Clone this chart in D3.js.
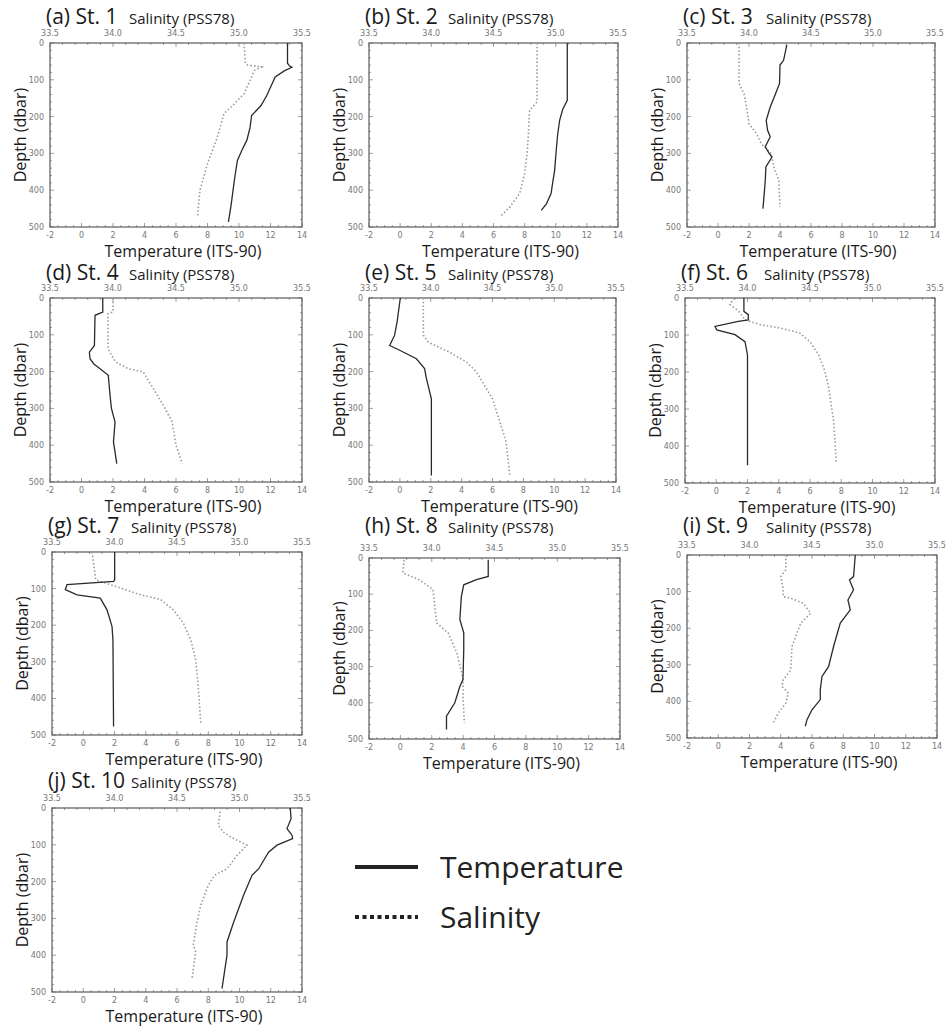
<!DOCTYPE html>
<html><head><meta charset="utf-8">
<script src="https://cdn.jsdelivr.net/npm/d3@7/dist/d3.min.js"></script>
<style>body{margin:0;background:#fff}svg{display:block}</style>
</head><body>
<script>
// ---- data ----
const stationLabels = ["(a) St. 1","(b) St. 2","(c) St. 3","(d) St. 4","(e) St. 5","(f) St. 6","(g) St. 7","(h) St. 8","(i) St. 9","(j) St. 10"];
const tempTicks = [-2,0,2,4,6,8,10,12,14];
const salTicks = [33.5,34.0,34.5,35.0,35.5];
const depthTicks = [0,100,200,300,400,500];

// [depth (dbar), temperature (°C)]
const temp1 = [[0,13.08],[55,13.08],[62,13.2],[66,13.36],[75,12.9],[92,12.3],[120,12.0],[142,11.77],[170,11.4],[197,10.8],[230,10.7],[264,10.5],[290,10.2],[319,9.9],[360,9.75],[391,9.65],[440,9.5],[486,9.33]];
const temp2 = [[0,10.74],[156,10.74],[180,10.45],[210,10.25],[250,10.12],[292,10.03],[346,9.93],[380,9.8],[409,9.7],[437,9.4],[455,9.07]];
const temp3 = [[5,4.44],[47,4.23],[60,4.0],[110,3.97],[147,3.63],[174,3.37],[210,3.11],[237,3.2],[255,3.37],[282,3.05],[300,3.3],[310,3.48],[337,3.09],[373,3.05],[410,2.98],[450,2.9]];
const temp4 = [[0,1.35],[38,1.35],[47,0.86],[129,0.82],[147,0.5],[165,0.54],[180,0.8],[192,1.18],[210,1.7],[264,1.81],[300,1.9],[337,2.13],[391,2.03],[450,2.24]];
const temp5 = [[0,0.03],[65,-0.18],[101,-0.34],[129,-0.66],[142,-0.01],[165,1.07],[192,1.6],[219,1.72],[274,2.04],[482,2.04]];
const temp6 = [[0,1.77],[36,1.77],[45,2.05],[59,2.05],[63,1.41],[77,-0.08],[86,0.03],[99,1.2],[118,1.84],[154,2.0],[452,2.0]];
const temp7 = [[0,2.01],[76,2.01],[80,1.95],[89,-1.04],[103,-1.15],[117,-0.4],[126,1.09],[158,1.52],[203,1.84],[240,1.9],[477,1.94]];
const temp8 = [[5,5.6],[51,5.6],[60,4.85],[74,4.04],[106,3.89],[170,3.79],[207,4.04],[253,4.04],[336,3.99],[355,3.79],[400,3.47],[437,2.94],[474,2.94]];
const temp9 = [[0,8.77],[59,8.66],[68,8.4],[95,8.66],[123,8.3],[150,8.45],[186,7.81],[250,7.38],[305,7.06],[332,6.64],[368,6.53],[395,6.53],[423,6.0],[450,5.68],[468,5.57]];
const temp10 = [[0,13.25],[29,13.3],[56,13.04],[74,13.36],[83,13.4],[101,12.4],[120,11.86],[165,11.23],[183,10.8],[237,10.26],[310,9.63],[364,9.2],[400,9.2],[491,8.88]];

// [depth (dbar), salinity (PSS78)]
const sal1 = [[0,35.04],[55,35.05],[60,35.07],[65,35.18],[75,35.12],[92,35.10],[138,35.04],[170,34.95],[192,34.88],[230,34.85],[264,34.82],[300,34.78],[328,34.75],[400,34.69],[473,34.67]];
const sal2 = [[0,34.85],[160,34.85],[183,34.79],[250,34.78],[300,34.77],[355,34.75],[409,34.71],[446,34.63],[473,34.55]];
const sal3 = [[0,33.92],[110,33.92],[138,33.96],[174,33.98],[219,34.0],[246,34.06],[274,34.1],[301,34.18],[337,34.2],[373,34.24],[446,34.25]];
const sal4 = [[0,34.0],[38,34.0],[43,33.96],[138,33.96],[174,34.02],[188,34.1],[192,34.12],[201,34.24],[246,34.32],[292,34.4],[337,34.47],[400,34.5],[450,34.55]];
const sal5 = [[0,33.94],[101,33.94],[120,33.98],[147,34.15],[174,34.29],[201,34.37],[246,34.45],[274,34.5],[337,34.56],[391,34.61],[482,34.64]];
const sal6 = [[0,33.89],[18,33.86],[36,33.93],[59,33.98],[72,34.1],[81,34.26],[95,34.42],[118,34.5],[154,34.57],[199,34.62],[244,34.65],[335,34.69],[443,34.71]];
const sal7 = [[0,33.82],[76,33.85],[94,34.01],[117,34.21],[130,34.37],[158,34.47],[194,34.55],[240,34.61],[295,34.65],[368,34.67],[468,34.69]];
const sal8 = [[5,33.78],[41,33.77],[60,33.9],[87,34.01],[152,34.03],[180,34.04],[207,34.13],[262,34.2],[336,34.25],[391,34.25],[456,34.26]];
const sal9 = [[0,34.29],[41,34.29],[59,34.25],[95,34.27],[114,34.27],[118,34.33],[132,34.43],[159,34.49],[186,34.41],[250,34.34],[314,34.33],[341,34.27],[359,34.26],[377,34.31],[405,34.29],[432,34.23],[459,34.19]];
const sal10 = [[0,34.85],[47,34.83],[65,34.87],[79,34.93],[101,35.06],[129,34.98],[165,34.9],[183,34.8],[210,34.75],[264,34.69],[310,34.66],[373,34.63],[391,34.65],[464,34.62]];

const temps = [temp1,temp2,temp3,temp4,temp5,temp6,temp7,temp8,temp9,temp10];
const sals = [sal1,sal2,sal3,sal4,sal5,sal6,sal7,sal8,sal9,sal10];

// ---- layout (frame boxes: left, top, right, bottom; title baseline) ----
const frames = [
  [50,43,302,227,24],[369,43,618,227,24],[687,43,935,227,24],
  [50,298,302,482,280],[369,298,616,482,280],[685,298,935,483,280],
  [52,552,302,735,533],[369,558,620,739,533],[687,555,937,738,533],
  [52,808,302,992,788]
];

const W = 951, H = 1027;
const svg = d3.select("body").append("svg").attr("width",W).attr("height",H);
const FONT = "'Open Sans', 'Noto Sans', sans-serif";
const TICKFONT = "'DejaVu Sans', sans-serif";
const frameCol = "#5a5a5a", tickCol = "#888";

frames.forEach((f,i)=>{
  const [L,T,R,B,tb] = f;
  const x = d3.scaleLinear().domain([-2,14]).range([L,R]);
  const xs = d3.scaleLinear().domain([33.5,35.5]).range([L,R]);
  const y = d3.scaleLinear().domain([0,500]).range([T,B]);
  const g = svg.append("g");

  // ticks (inward), minor + major
  const minorT = d3.range(-2,14.001,0.5), minorS = d3.range(33.5,35.501,0.1), minorD = d3.range(0,500.1,20);
  const tk = g.append("g").attr("stroke",tickCol).attr("stroke-width",0.8);
  minorT.forEach(v=>{const maj = tempTicks.some(t=>Math.abs(t-v)<1e-6); const len = maj?4:2;
    tk.append("line").attr("x1",x(v)).attr("x2",x(v)).attr("y1",B).attr("y2",B-len);});
  minorS.forEach(v=>{const maj = salTicks.some(t=>Math.abs(t-v)<1e-6); const len = maj?4:2;
    tk.append("line").attr("x1",xs(v)).attr("x2",xs(v)).attr("y1",T).attr("y2",T+len);});
  minorD.forEach(v=>{const maj = depthTicks.includes(Math.round(v)); const len = maj?4:2;
    tk.append("line").attr("x1",L).attr("x2",L+len).attr("y1",y(v)).attr("y2",y(v));
    tk.append("line").attr("x1",R).attr("x2",R-len).attr("y1",y(v)).attr("y2",y(v));});

  // frame
  g.append("rect").attr("x",L).attr("y",T).attr("width",R-L).attr("height",B-T)
    .attr("fill","none").attr("stroke",frameCol).attr("stroke-width",1.2);

  // tick labels
  const lab = g.append("g").attr("font-family",TICKFONT).attr("font-size",8).attr("fill","#777");
  tempTicks.forEach(v=>lab.append("text").attr("x",x(v)).attr("y",B+11).attr("text-anchor","middle").text(v));
  salTicks.forEach(v=>lab.append("text").attr("x",xs(v)).attr("y",T-7).attr("text-anchor","middle").text(v.toFixed(1)));
  depthTicks.forEach(v=>lab.append("text").attr("x",L-6).attr("y",y(v)+3).attr("text-anchor","end").text(v));

  // profiles
  const lineT = d3.line().x(d=>x(d[1])).y(d=>y(d[0]));
  const lineS = d3.line().x(d=>xs(d[1])).y(d=>y(d[0]));
  g.append("path").datum(sals[i]).attr("d",lineS).attr("fill","none")
    .attr("stroke","#9a9a9a").attr("stroke-width",1.6).attr("stroke-dasharray","1.5,2.2");
  g.append("path").datum(temps[i]).attr("d",lineT).attr("fill","none")
    .attr("stroke","#2a2a2a").attr("stroke-width",1.3);

  // titles
  g.append("text").attr("x",L-4).attr("y",tb).attr("font-family",FONT).attr("font-size",21)
    .attr("fill","#1a1a1a").text(stationLabels[i]);
  g.append("text").attr("x",L+79).attr("y",tb).attr("font-family",FONT).attr("font-size",15)
    .attr("fill","#1a1a1a").text("Salinity (PSS78)");
  g.append("text").attr("x",(L+R)/2+7).attr("y",B+29.5).attr("text-anchor","middle")
    .attr("font-family",FONT).attr("font-size",16).attr("fill","#1a1a1a").text("Temperature (ITS-90)");
  g.append("text").attr("transform",`translate(${L-24},${(T+B)/2}) rotate(-90)`).attr("text-anchor","middle")
    .attr("font-family",FONT).attr("font-size",16).attr("fill","#1a1a1a").text("Depth (dbar)");
});

// legend
const leg = svg.append("g");
leg.append("line").attr("x1",355).attr("x2",418).attr("y1",867).attr("y2",867).attr("stroke","#222").attr("stroke-width",4);
leg.append("line").attr("x1",355).attr("x2",418).attr("y1",917).attr("y2",917).attr("stroke","#222").attr("stroke-width",4).attr("stroke-dasharray","4,3.5");
leg.append("text").attr("x",440).attr("y",867).attr("dy","0.35em").attr("font-family",FONT).attr("font-size",30).attr("fill","#222").text("Temperature");
leg.append("text").attr("x",440).attr("y",917).attr("dy","0.35em").attr("font-family",FONT).attr("font-size",30).attr("fill","#222").text("Salinity");
</script>
</body></html>
